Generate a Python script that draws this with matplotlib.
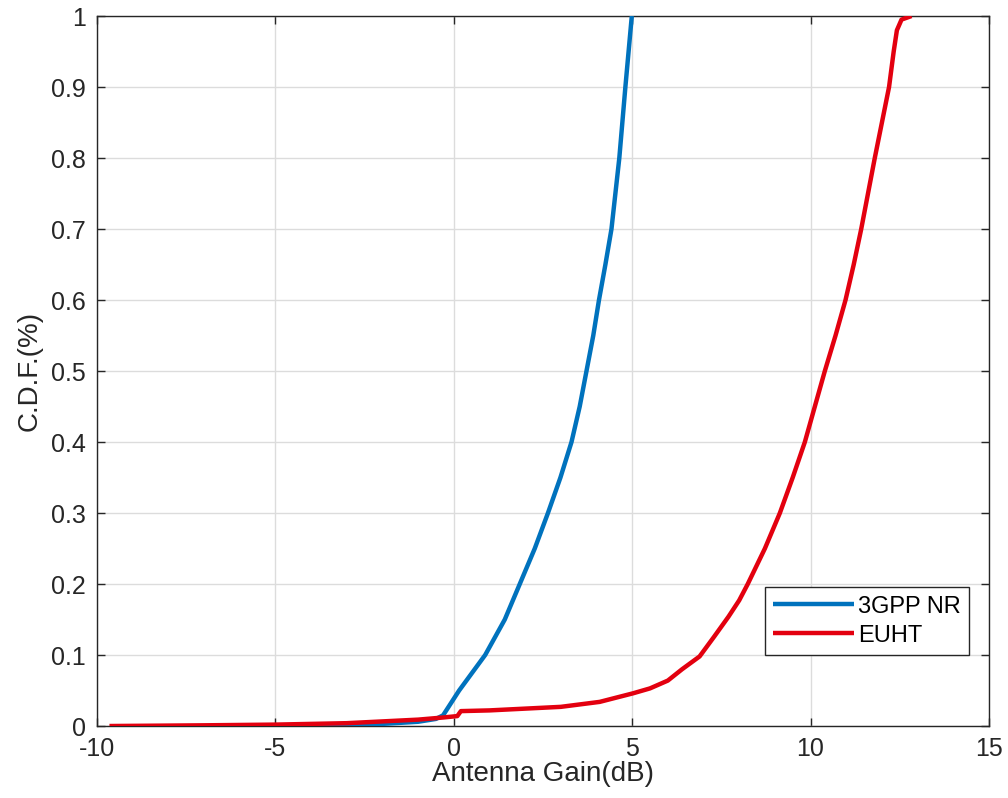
import matplotlib
matplotlib.use("Agg")
import matplotlib.pyplot as plt

# ---- data ----
nr_gain = [-4.0, -3.0, -2.0, -1.0, -0.5, -0.3, 0.15, 0.88, 1.43, 1.85, 2.27, 2.64,
           2.99, 3.3, 3.53, 3.72, 3.91, 4.07, 4.25, 4.42, 4.53, 4.64, 4.81, 4.99]
nr_cdf = [0.0, 0.001, 0.003, 0.006, 0.01, 0.015, 0.05, 0.1, 0.15, 0.2, 0.25, 0.3,
          0.35, 0.4, 0.45, 0.5, 0.55, 0.6, 0.65, 0.7, 0.75, 0.8, 0.9, 1.0]

euht_gain = [-9.65, -7.0, -5.0, -3.0, -1.0, -0.3, 0.1, 0.2, 1.0, 3.0, 4.09, 5.02, 5.5,
             6.0, 6.4, 6.89, 7.3, 7.7, 8.0, 8.24, 8.72, 9.14, 9.5, 9.84, 10.12,
             10.4, 10.7, 10.98, 11.21, 11.42, 11.61, 11.8, 12.0, 12.2, 12.33, 12.42,
             12.55, 12.83]
euht_cdf = [0.0, 0.001, 0.002, 0.004, 0.009, 0.012, 0.014, 0.021, 0.022, 0.027, 0.034,
            0.046, 0.053, 0.064, 0.08, 0.098, 0.126, 0.154, 0.177, 0.2, 0.25, 0.3,
            0.35, 0.4, 0.45, 0.5, 0.55, 0.6, 0.65, 0.7, 0.75, 0.8, 0.85, 0.9, 0.95,
            0.98, 0.995, 1.0]

series_labels = ["3GPP NR", "EUHT"]
x_ticks = [-10, -5, 0, 5, 10, 15]
y_ticks = [0, 0.1, 0.2, 0.3, 0.4, 0.5, 0.6, 0.7, 0.8, 0.9, 1]
y_tick_labels = ["0", "0.1", "0.2", "0.3", "0.4", "0.5", "0.6", "0.7", "0.8", "0.9", "1"]

plt.rcParams['font.family'] = ['Liberation Sans', 'DejaVu Sans']

fig = plt.figure(figsize=(10.08, 7.98), dpi=100)
ax = fig.add_axes([0.0962, 0.0902, 0.8849, 0.8897])

ax.plot(nr_gain, nr_cdf, color='#0072BD', lw=3.2, label=series_labels[0],
        solid_capstyle='butt', solid_joinstyle='round', zorder=3)
ax.plot(euht_gain, euht_cdf, color='#E3000F', lw=3.2, label=series_labels[1],
        solid_capstyle='butt', solid_joinstyle='round', zorder=4)

ax.set_xlim(-10, 15)
ax.set_ylim(0, 1)
ax.set_xticks(x_ticks)
ax.set_xticklabels([str(t) for t in x_ticks])
ax.set_yticks(y_ticks)
ax.set_yticklabels(y_tick_labels)

ax.grid(True, color='#dcdcdc', lw=1.0, zorder=0)
ax.set_axisbelow(True)
ax.tick_params(direction='in', top=True, right=True, length=6, width=1,
               color='#262626', labelcolor='#262626', labelsize=18, pad=8)
for s in ax.spines.values():
    s.set_color('#262626')
    s.set_linewidth(1.0)

ax.set_xlabel("Antenna Gain(dB)", fontsize=20, color='#262626', labelpad=0)
ax.set_ylabel("C.D.F.(%)", fontsize=20, color='#262626', labelpad=6)

leg = ax.legend(loc='lower left', bbox_to_anchor=(0.749, 0.1), fontsize=17,
                fancybox=False, framealpha=1, edgecolor='#262626',
                handlelength=3.4, borderpad=0.35, labelspacing=0.3,
                handletextpad=0.2, borderaxespad=0)
leg.get_frame().set_linewidth(1.0)

fig.savefig("out.png", dpi=100)
